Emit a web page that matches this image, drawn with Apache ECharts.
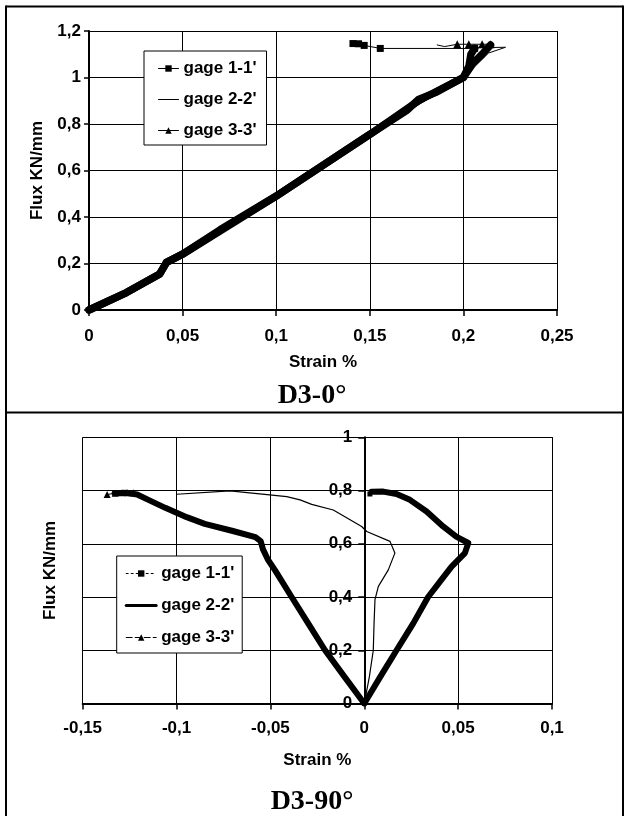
<!DOCTYPE html>
<html>
<head>
<meta charset="utf-8">
<style>html,body{margin:0;padding:0;background:#fff;}#c{width:624px;height:816px;}</style>
<script src="https://cdn.jsdelivr.net/npm/echarts@6/dist/echarts.min.js"></script>
</head>
<body>
<div id="c"></div>
<script>
// ---- Data (Strain %, Flux KN/mm) ----
const seriesNames = ["gage 1-1'", "gage 2-2'", "gage 3-3'"];
const titles = ["D3-0°", "D3-90°"];
const xTicks0 = [0, 0.05, 0.1, 0.15, 0.2, 0.25];
const yTicks0 = [0, 0.2, 0.4, 0.6, 0.8, 1, 1.2];
const xTicks90 = [-0.15, -0.1, -0.05, 0, 0.05, 0.1];
const yTicks90 = [0, 0.2, 0.4, 0.6, 0.8, 1];

// D3-0°
const d0Gage1Band = [[0,0],[0.02,0.075],[0.0378,0.155],[0.0414,0.205],[0.05,0.24],[0.07,0.345],[0.1,0.49],[0.15,0.755],[0.17,0.86],[0.176,0.905],[0.185,0.935],[0.2,1.0],[0.203,1.05],[0.204,1.1],[0.206,1.125]];
const d0Gage1Top = [[0.206,1.125],[0.1556,1.125],[0.147,1.138],[0.144,1.145],[0.141,1.146]];
const d0Gage2 = [[0,0],[0.02,0.075],[0.0378,0.155],[0.0414,0.205],[0.05,0.24],[0.1,0.49],[0.15,0.755],[0.2,1.0],[0.2134,1.105],[0.2225,1.13],[0.205,1.128]];
const d0Gage3Band = [[0,0],[0.02,0.075],[0.0378,0.155],[0.0414,0.205],[0.05,0.24],[0.1,0.49],[0.15,0.755],[0.176,0.9],[0.2,1.0],[0.205,1.06],[0.21,1.1],[0.2145,1.14]];
const d0Gage3Top = [[0.2145,1.143],[0.21,1.143],[0.2029,1.143],[0.1967,1.143]];
const d0Gage3Tail = [[0.1967,1.143],[0.19,1.133],[0.186,1.14]];

// D3-90°
const d90Gage1 = [[0,0],[0.0085,0.1],[0.0172,0.2],[0.026,0.3],[0.034,0.4],[0.0395,0.45],[0.0465,0.514],[0.0536,0.565],[0.0554,0.603],[0.049,0.627],[0.042,0.665],[0.0332,0.721],[0.0243,0.765],[0.0172,0.787],[0.0101,0.796],[0.0039,0.795]];
const d90Gage1End = [[0.003,0.787]];
const d90Gage2 = [[0,0],[0.0027,0.1],[0.0048,0.2],[0.0052,0.3],[0.0057,0.39],[0.0075,0.44],[0.0128,0.502],[0.0163,0.565],[0.0137,0.609],[0.0013,0.646],[-0.0014,0.665],[-0.0165,0.727],[-0.028,0.748],[-0.0342,0.765],[-0.0413,0.777],[-0.0715,0.799],[-0.0999,0.786]];
const d90Gage3 = [[0,0],[-0.0105,0.1],[-0.0209,0.2],[-0.0298,0.3],[-0.0387,0.4],[-0.0475,0.5],[-0.0513,0.54],[-0.054,0.58],[-0.0552,0.61],[-0.058,0.625],[-0.07,0.648],[-0.085,0.675],[-0.0946,0.7],[-0.106,0.735],[-0.115,0.765],[-0.121,0.785],[-0.127,0.792],[-0.133,0.79]];
const d90Gage3End = [[-0.123,0.792],[-0.126,0.792],[-0.129,0.792],[-0.1327,0.79],[-0.137,0.785]];

// ---- Chart ----
const FONT = 'Liberation Sans';
const fmt = v => String(Math.round(v * 100) / 100).replace('.', ',');
const lbl = { color: '#000', fontFamily: FONT, fontWeight: 'bold', fontSize: 17, formatter: fmt };
const nameStyle = { color: '#000', fontFamily: FONT, fontWeight: 'bold', fontSize: 17 };

function axis(min, max, ticks, extra) {
  return Object.assign({
    type: 'value', min: min, max: max, interval: ticks[1] - ticks[0],
    axisLine: { show: true, onZero: false, lineStyle: { color: '#000', width: 2 } },
    axisTick: { show: true, length: 6, lineStyle: { color: '#000', width: 1.5 } },
    splitLine: { show: true, lineStyle: { color: '#000', width: 1 } },
    axisLabel: Object.assign({}, lbl),
    nameTextStyle: nameStyle, nameLocation: 'middle'
  }, extra);
}

const grid1 = { left: 82.7, right: 72, top: 437.3, bottom: 112.5 };
const grid1Width = 624 - grid1.left - grid1.right;
// offset of the y axis so that it sits on strain = 0
const yOffset90 = -grid1Width * (0 - xTicks90[0]) / (xTicks90[xTicks90.length - 1] - xTicks90[0]);

const chart = echarts.init(document.getElementById('c'), null, { renderer: 'canvas' });
const black = '#000';
function line(name, data, gi, width, symbol, symSize, showSym, z) {
  return {
    type: 'line', name: name, data: data, xAxisIndex: gi, yAxisIndex: gi,
    color: black, symbol: symbol, symbolSize: symSize, showSymbol: showSym,
    lineStyle: { color: black, width: width, cap: 'round', join: 'round' },
    itemStyle: { color: black }, z: z || 2, animation: false, silent: true
  };
}

const legendText = { color: '#000', fontFamily: FONT, fontWeight: 'bold', fontSize: 17, lineHeight: 17 };
const noSym = { color: 'rgba(0,0,0,0)', borderWidth: 0 };

chart.setOption({
  animation: false,
  backgroundColor: '#fff',
  grid: [
    { left: 89, right: 67, top: 31, bottom: 506, containLabel: false, outerBoundsMode: 'none' },
    Object.assign({ containLabel: false, outerBoundsMode: 'none' }, grid1)
  ],
  xAxis: [
    axis(xTicks0[0], xTicks0[xTicks0.length - 1], xTicks0, { gridIndex: 0, name: 'Strain %', nameGap: 44, axisLabel: Object.assign({}, lbl, { margin: 18 }) }),
    axis(xTicks90[0], xTicks90[xTicks90.length - 1], xTicks90, { gridIndex: 1, name: 'Strain %', nameGap: 48, axisLabel: Object.assign({}, lbl, { margin: 16 }) })
  ],
  yAxis: [
    axis(yTicks0[0], yTicks0[yTicks0.length - 1], yTicks0, { gridIndex: 0, name: 'Flux KN/mm', nameGap: 43, axisTick: { show: true, length: 5, lineStyle: { color: '#000', width: 1.5 } }, axisLabel: Object.assign({}, lbl, { margin: 8 }) }),
    axis(yTicks90[0], yTicks90[yTicks90.length - 1], yTicks90, { gridIndex: 1, offset: yOffset90, name: 'Flux KN/mm', nameGap: 305, axisLabel: Object.assign({}, lbl, { margin: 12 }) })
  ],
  legend: [
    {
      orient: 'vertical', left: 144, top: 51, itemWidth: 20, itemHeight: 8, itemGap: 14,
      padding: [9, 10, 6, 14], backgroundColor: '#fff', borderColor: '#000', borderWidth: 1,
      textStyle: legendText, selectedMode: false,
      data: [
        { name: seriesNames[0], lineStyle: { width: 1, type: 'solid' } },
        { name: seriesNames[1], lineStyle: { width: 1, type: 'solid' }, itemStyle: noSym },
        { name: seriesNames[2], lineStyle: { width: 1, type: 'solid' } }
      ]
    },
    {
      orient: 'vertical', left: 116.7, top: 556, itemWidth: 30, itemHeight: 8, itemGap: 15,
      padding: [9, 8, 7, 8], backgroundColor: '#fff', borderColor: '#000', borderWidth: 1,
      textStyle: legendText, selectedMode: false,
      data: [
        { name: seriesNames[0], lineStyle: { width: 1, type: [2, 3] }, itemStyle: { color: '#000' } },
        { name: seriesNames[1], lineStyle: { width: 3, type: 'solid' }, itemStyle: noSym },
        { name: seriesNames[2], lineStyle: { width: 1, type: [6, 3] } }
      ]
    }
  ],
  graphic: [
    { type: 'line', shape: { x1: 6, y1: 6.5, x2: 623, y2: 6.5 }, style: { stroke: '#000', lineWidth: 2 }, silent: true },
    { type: 'line', shape: { x1: 6, y1: 5.5, x2: 6, y2: 816 }, style: { stroke: '#000', lineWidth: 2 }, silent: true },
    { type: 'line', shape: { x1: 623, y1: 5.5, x2: 623, y2: 816 }, style: { stroke: '#000', lineWidth: 2 }, silent: true },
    { type: 'line', shape: { x1: 6, y1: 412.5, x2: 624, y2: 412.5 }, style: { stroke: '#000', lineWidth: 2 }, silent: true },
    { type: 'text', left: 'center', top: 382, style: { text: titles[0], fill: '#000', font: 'bold 28px "Liberation Serif"' }, silent: true },
    { type: 'text', left: 'center', top: 788, style: { text: titles[1], fill: '#000', font: 'bold 28px "Liberation Serif"' }, silent: true }
  ],
  series: [
    line(seriesNames[0], d0Gage1Band, 0, 7.5, 'rect', 7, false, 3),
    line(seriesNames[1], d0Gage2, 0, 1, 'none', 0, false, 2),
    line(seriesNames[2], d0Gage3Band, 0, 7.5, 'triangle', 8, false, 3),
    line(seriesNames[0], d0Gage1Top, 0, 1, 'rect', 7, true, 4),
    line(seriesNames[2], d0Gage3Top, 0, 1, 'triangle', 8, true, 4),
    line(seriesNames[2], d0Gage3Tail, 0, 1, 'none', 0, false, 4),
    line(seriesNames[0], d90Gage1, 1, 6, 'rect', 5, false, 3),
    line(seriesNames[1], d90Gage2, 1, 1.2, 'none', 0, false, 2),
    line(seriesNames[2], d90Gage3, 1, 6, 'triangle', 7, false, 3),
    line(seriesNames[0], d90Gage1End, 1, 1, 'rect', 5, true, 4),
    line(seriesNames[2], d90Gage3End, 1, 1, 'triangle', 7, true, 4)
  ]
});
</script>
</body>
</html>
